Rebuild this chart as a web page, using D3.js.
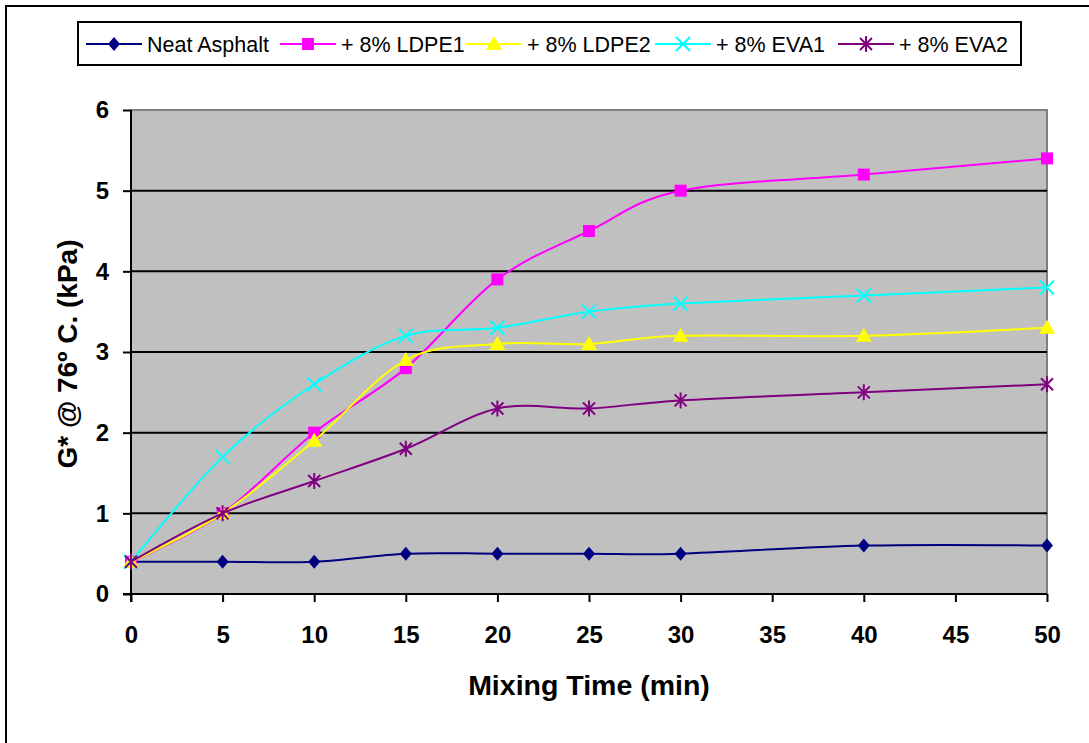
<!DOCTYPE html>
<html><head><meta charset="utf-8">
<script src="https://cdn.jsdelivr.net/npm/d3@7"></script>
<style>
html,body{margin:0;padding:0;background:#fff;}
svg{display:block;font-family:"Liberation Sans",Arial,sans-serif;}
</style></head>
<body>
<svg id="chart" width="1089" height="743"></svg>
<script>
const mixingTime = [0, 5, 10, 15, 20, 25, 30, 40, 50];
const neatAsphalt = [0.4, 0.4, 0.4, 0.5, 0.5, 0.5, 0.5, 0.6, 0.6];
const ldpe1 = [0.4, 1.0, 2.0, 2.8, 3.9, 4.5, 5.0, 5.2, 5.4];
const ldpe2 = [0.4, 1.0, 1.9, 2.9, 3.1, 3.1, 3.2, 3.2, 3.3];
const eva1 = [0.4, 1.7, 2.6, 3.2, 3.3, 3.5, 3.6, 3.7, 3.8];
const eva2 = [0.4, 1.0, 1.4, 1.8, 2.3, 2.3, 2.4, 2.5, 2.6];
const seriesNames = ["Neat Asphalt", "+ 8% LDPE1", "+ 8% LDPE2", "+ 8% EVA1", "+ 8% EVA2"];
const xTicks = [0, 5, 10, 15, 20, 25, 30, 35, 40, 45, 50];
const yTicks = [0, 1, 2, 3, 4, 5, 6];
const xTitle = "Mixing Time (min)";
const yTitle = "G* @ 76º C. (kPa)";

const seriesValues = [neatAsphalt, ldpe1, ldpe2, eva1, eva2];
const colors = ["#000080", "#FF00FF", "#FFFF00", "#00FFFF", "#800080"];
const markers = ["diamond", "square", "triangle", "x", "star"];

const svg = d3.select("#chart");
const L = 131, R = 1047, T = 110, B = 594;
const x = d3.scaleLinear().domain([0, 50]).range([L, R]);
const y = d3.scaleLinear().domain([0, 6]).range([B, T]);

// outer frame
svg.append("rect").attr("x", 6).attr("y", 6).attr("width", 1100).attr("height", 760)
  .attr("fill", "#fff").attr("stroke", "#000").attr("stroke-width", 2);

// plot area
svg.append("rect").attr("x", L).attr("y", T).attr("width", R - L).attr("height", B - T)
  .attr("fill", "#C0C0C0").attr("stroke", "#808080").attr("stroke-width", 2);

// gridlines
svg.append("g").selectAll("line").data(yTicks.filter(d => d > 0 && d < 6)).join("line")
  .attr("x1", L).attr("x2", R).attr("y1", d => y(d)).attr("y2", d => y(d))
  .attr("stroke", "#000").attr("stroke-width", 2);

// axes
const xAxis = d3.axisBottom(x).tickValues(xTicks).tickSize(8).tickPadding(24).tickFormat(d3.format("d"));
const yAxis = d3.axisLeft(y).tickValues(yTicks).tickSize(8).tickPadding(14).tickFormat(d3.format("d"));
const gx = svg.append("g").attr("transform", `translate(0,${B})`).call(xAxis);
const gy = svg.append("g").attr("transform", `translate(${L},0)`).call(yAxis);
[gx, gy].forEach(g => {
  g.select(".domain").attr("stroke", "#000").attr("stroke-width", 2);
  g.selectAll(".tick line").attr("stroke", "#000").attr("stroke-width", 2);
  g.selectAll(".tick text").attr("fill", "#000").attr("font-size", 24).attr("font-weight", "bold")
    .attr("font-family", "Liberation Sans, Arial, sans-serif");
});
gy.select(".domain").attr("d", `M-8,${B}H0V${T}`);
gx.select(".domain").attr("d", `M${L},8V0H${R}`);

// axis titles
svg.append("text").attr("x", (L + R) / 2).attr("y", 695).attr("text-anchor", "middle")
  .attr("font-size", 28.5).attr("font-weight", "bold").text(xTitle);
svg.append("text").attr("transform", `translate(77,${(T + B) / 2 + 2}) rotate(-90)`).attr("text-anchor", "middle")
  .attr("font-size", 28).attr("font-weight", "bold").text(yTitle);

function markerPath(type) {
  const p = d3.path();
  if (type === "diamond") { p.moveTo(0, -7); p.lineTo(6, 0); p.lineTo(0, 7); p.lineTo(-6, 0); p.closePath(); }
  else if (type === "square") { p.rect(-6, -6, 12, 12); }
  else if (type === "triangle") { p.moveTo(0, -8); p.lineTo(8, 6); p.lineTo(-8, 6); p.closePath(); }
  else if (type === "x") { p.moveTo(-7, -7); p.lineTo(7, 7); p.moveTo(7, -7); p.lineTo(-7, 7); }
  else if (type === "star") { p.moveTo(-6, -6); p.lineTo(6, 6); p.moveTo(6, -6); p.lineTo(-6, 6); p.moveTo(0, -8); p.lineTo(0, 8); }
  return p.toString();
}
function drawMarker(g, type, color) {
  const filled = type === "diamond" || type === "square" || type === "triangle";
  g.append("path").attr("d", markerPath(type))
    .attr("fill", filled ? color : "none").attr("stroke", color).attr("stroke-width", filled ? 0 : 2);
}

const line = d3.line().x(d => x(d[0])).y(d => y(d[1])).curve(d3.curveCatmullRom.alpha(0));
const plot = svg.append("g");
seriesValues.forEach((vals, i) => {
  const pts = mixingTime.map((t, j) => [t, vals[j]]);
  const g = plot.append("g");
  g.append("path").datum(pts).attr("d", line).attr("fill", "none")
    .attr("stroke", colors[i]).attr("stroke-width", 2);
  g.selectAll("g.m").data(pts).join("g").attr("class", "m")
    .attr("transform", d => `translate(${x(d[0])},${y(d[1])})`)
    .each(function () { drawMarker(d3.select(this), markers[i], colors[i]); });
});

// legend
const lg = svg.append("g");
lg.append("rect").attr("x", 78).attr("y", 22).attr("width", 943).attr("height", 43)
  .attr("fill", "#fff").attr("stroke", "#000").attr("stroke-width", 2);
const legendX = [86, 280, 466, 655, 838];
seriesNames.forEach((name, i) => {
  const g = lg.append("g").attr("transform", `translate(${legendX[i]},44)`);
  g.append("line").attr("x1", 0).attr("x2", 56).attr("y1", 0).attr("y2", 0)
    .attr("stroke", colors[i]).attr("stroke-width", 2);
  const m = g.append("g").attr("transform", "translate(28,0)");
  drawMarker(m, markers[i], colors[i]);
  g.append("text").attr("x", 61).attr("y", 7.5).attr("font-size", 21.5).attr("fill", "#000").text(name);
});
</script>
</body></html>
